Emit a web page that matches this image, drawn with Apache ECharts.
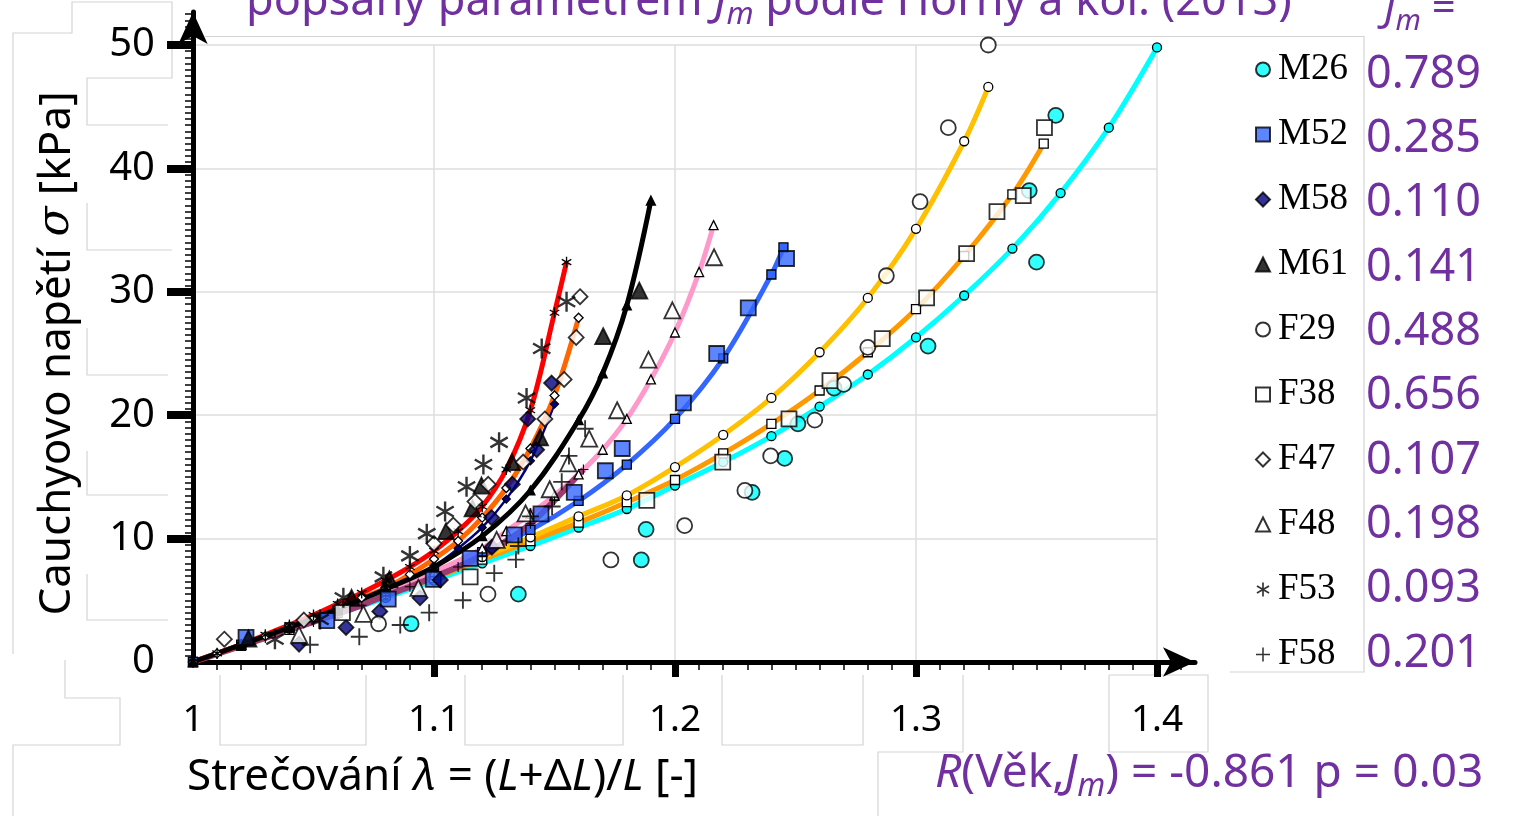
<!DOCTYPE html>
<html>
<head>
<meta charset="utf-8">
<script src="https://cdn.jsdelivr.net/npm/echarts@6/dist/echarts.min.js"></script>
<style>
  html, body { margin: 0; padding: 0; background: #fff; }
  #main { width: 1514px; height: 816px; }
</style>
</head>
<body>
<div id="main"></div>
<script>
// osa x: strecovani lambda, osa y: Cauchyovo napeti v kPa
const xTicks = [1, 1.1, 1.2, 1.3, 1.4]
const yTicks = [0, 10, 20, 30, 40, 50]
const specimens = ['M26', 'M52', 'M58', 'M61', 'F29', 'F38', 'F47', 'F48', 'F53', 'F58']
const jmValues = ['0.789', '0.285', '0.110', '0.141', '0.488', '0.656', '0.107', '0.198', '0.093', '0.201']

// prolozene krivky modelu
const fitM26 = [[1, 0], [1.02, 1.3], [1.04, 2.6], [1.06, 3.9], [1.08, 5.2], [1.10, 6.6], [1.12, 8.0], [1.14, 9.4], [1.16, 10.9], [1.18, 12.4], [1.20, 14.3], [1.22, 16.2], [1.24, 18.3], [1.26, 20.7], [1.28, 23.3], [1.30, 26.3], [1.32, 29.7], [1.34, 33.5], [1.36, 38.0], [1.38, 43.3], [1.40, 49.8]]
const fitF38 = [[1, 0], [1.02, 1.3], [1.04, 2.6], [1.06, 4.0], [1.08, 5.4], [1.10, 6.8], [1.12, 8.3], [1.14, 9.8], [1.16, 11.3], [1.18, 12.95], [1.20, 14.75], [1.22, 16.9], [1.24, 19.3], [1.26, 22.0], [1.28, 25.1], [1.30, 28.6], [1.32, 32.9], [1.34, 37.9], [1.353, 42.0]]
const fitF29 = [[1, 0], [1.02, 1.35], [1.04, 2.7], [1.06, 4.1], [1.08, 5.5], [1.10, 7.0], [1.12, 8.5], [1.14, 10.1], [1.16, 11.8], [1.18, 13.5], [1.20, 15.8], [1.22, 18.4], [1.24, 21.4], [1.26, 25.1], [1.28, 29.5], [1.30, 35.1], [1.32, 42.2], [1.33, 46.6]]
const fitM52 = [[1, 0], [1.02, 1.4], [1.04, 2.8], [1.06, 4.2], [1.08, 5.7], [1.10, 7.3], [1.12, 8.9], [1.14, 10.7], [1.16, 13.05], [1.18, 16.0], [1.20, 19.7], [1.22, 24.6], [1.24, 31.4], [1.245, 33.6]]
const fitF48 = [[1, 0], [1.02, 1.4], [1.04, 2.8], [1.06, 4.2], [1.08, 5.7], [1.10, 7.3], [1.12, 9.2], [1.13, 10.6], [1.14, 12.0], [1.15, 13.5], [1.16, 15.2], [1.17, 17.2], [1.18, 19.7], [1.19, 22.9], [1.20, 26.7], [1.21, 31.6], [1.216, 35.4]]
const fitF58 = [[1, 0], [1.01, 0.65], [1.02, 1.3], [1.03, 1.95], [1.04, 2.6], [1.05, 3.25], [1.06, 3.9], [1.07, 4.6], [1.08, 5.4], [1.09, 6.1], [1.10, 6.9], [1.11, 7.7], [1.12, 8.6], [1.13, 9.8], [1.14, 11.2], [1.15, 13.1], [1.162, 15.6]]
const fitM58 = [[1, 0], [1.02, 1.4], [1.04, 2.8], [1.06, 4.3], [1.08, 5.9], [1.10, 7.8], [1.11, 9.2], [1.12, 10.9], [1.13, 13.2], [1.14, 16.3], [1.15, 20.9]]
const fitF47 = [[1, 0], [1.01, 0.7], [1.02, 1.4], [1.03, 2.1], [1.04, 2.9], [1.05, 3.6], [1.06, 4.4], [1.07, 5.2], [1.08, 6.0], [1.09, 7.1], [1.10, 8.35], [1.11, 9.8], [1.12, 11.7], [1.13, 14.1], [1.14, 17.3], [1.15, 21.6], [1.16, 27.9]]
const fitF53 = [[1, 0], [1.01, 0.7], [1.02, 1.4], [1.03, 2.2], [1.04, 3.0], [1.05, 3.8], [1.06, 4.7], [1.07, 5.6], [1.08, 6.6], [1.09, 7.7], [1.10, 9.0], [1.11, 10.6], [1.12, 12.6], [1.13, 15.6], [1.14, 20.4], [1.15, 28.3], [1.155, 32.4]]
const fitM61 = [[1, 0], [1.02, 1.4], [1.04, 2.8], [1.06, 4.3], [1.08, 5.9], [1.10, 7.7], [1.12, 10.2], [1.14, 13.9], [1.16, 19.6], [1.17, 23.4], [1.18, 28.9], [1.19, 37.4]]

// namerene body
const dataM26 = [[1.0905, 3.1], [1.135, 5.5], [1.186, 8.27], [1.188, 10.75], [1.232, 13.75], [1.2455, 16.5], [1.251, 19.3], [1.266, 22.2], [1.305, 25.6], [1.350, 32.4], [1.347, 38.2], [1.358, 44.3]]
const dataM52 = [[1.022, 2.0], [1.0555, 3.35], [1.081, 5.1], [1.0997, 6.7], [1.115, 8.4], [1.1333, 10.3], [1.1444, 12.0], [1.1582, 13.75], [1.1711, 15.5], [1.1781, 17.3], [1.2035, 21.0], [1.2173, 25.0], [1.2304, 28.7], [1.2463, 32.7]]
const dataM58 = [[1.044, 1.45], [1.0635, 2.8], [1.0775, 4.1], [1.0942, 5.2], [1.1026, 6.65], [1.124, 9.3], [1.1239, 11.7], [1.1325, 14.4], [1.1426, 17.2], [1.1389, 19.7], [1.1488, 22.6]]
const dataM61 = [[1.023, 1.9], [1.0658, 5.2], [1.0815, 6.7], [1.105, 10.6], [1.116, 12.45], [1.1197, 14.3], [1.1324, 16.2], [1.144, 18.2], [1.1702, 26.4], [1.1852, 30.1]]
const dataF29 = [[1.077, 3.1], [1.1224, 5.5], [1.1734, 8.27], [1.204, 11.05], [1.229, 13.9], [1.2397, 16.7], [1.258, 19.6], [1.270, 22.5], [1.280, 25.5], [1.2877, 31.3], [1.3017, 37.3], [1.3134, 43.3], [1.330, 50.0]]
const dataF38 = [[1.062, 4.0], [1.115, 6.9], [1.1883, 13.1], [1.2198, 16.2], [1.2473, 19.7], [1.2643, 22.8], [1.286, 26.2], [1.3044, 29.5], [1.321, 33.1], [1.3336, 36.5], [1.3445, 37.8], [1.3533, 43.3]]
const dataF47 = [[1.013, 1.85], [1.046, 3.4], [1.100, 9.6], [1.108, 11.1], [1.117, 13.0], [1.1225, 14.4], [1.137, 16.2], [1.146, 19.7], [1.154, 22.9], [1.159, 26.3], [1.1606, 29.6]]
const dataF48 = [[1.044, 2.2], [1.0707, 3.9], [1.0935, 6.0], [1.126, 9.9], [1.138, 12.05], [1.148, 14.0], [1.1557, 16.1], [1.1644, 18.1], [1.176, 20.4], [1.189, 24.5], [1.1989, 28.5], [1.2162, 32.8]]
const dataF53 = [[1.034, 1.85], [1.0527, 3.45], [1.0624, 5.2], [1.079, 6.9], [1.090, 8.6], [1.097, 10.4], [1.1046, 12.2], [1.1135, 14.2], [1.1205, 16.0], [1.127, 17.8], [1.1384, 21.4], [1.1447, 25.4], [1.155, 29.2]]
const dataF58 = [[1.0486, 1.4], [1.069, 2.05], [1.086, 3.0], [1.098, 4.0], [1.112, 5.0], [1.125, 7.2], [1.134, 8.3], [1.135, 9.4], [1.140, 11.8], [1.149, 12.6], [1.153, 14.6], [1.156, 16.7], [1.1627, 18.9]]

const purple = '#7030A0'
const sans = '"Noto Sans", "Open Sans", sans-serif'
const boxGray = '#d4d4d4'

// symbol z tenkych ramen (plus, hvezdicka)
function barsPath (angles, w) {
  let d = ''
  angles.forEach(function (deg) {
    const a = deg * Math.PI / 180
    const c = Math.cos(a)
    const s = Math.sin(a)
    const pts = [[1, w], [-1, w], [-1, -w], [1, -w]].map(function (p) {
      return [10 + 10 * (c * p[0] - s * p[1]), 10 + 10 * (s * p[0] + c * p[1])]
    })
    d += 'M' + pts.map(function (p) { return p[0].toFixed(2) + ',' + p[1].toFixed(2) }).join('L') + 'Z'
  })
  return 'path://' + d
}
const plusSymbol = barsPath([0, 90], 0.11)
const starSymbol = barsPath([90, 30, 150], 0.12)

function fitLine (data, color, width, symbol, fill, size) {
  const lineOnly = symbol === plusSymbol || symbol === starSymbol
  return {
    type: 'line',
    xAxisIndex: 0,
    yAxisIndex: 0,
    data: data,
    smooth: 0.35,
    symbol: symbol,
    symbolSize: size || 9,
    symbolKeepAspect: true,
    showSymbol: true,
    lineStyle: { color: color, width: width },
    itemStyle: { color: fill, borderColor: '#000', borderWidth: lineOnly ? 0 : 1.3 },
    z: 3,
    silent: true
  }
}

function measured (name, data, symbol, fill, size) {
  const lineOnly = symbol === plusSymbol || symbol === starSymbol
  return {
    name: name,
    type: 'scatter',
    xAxisIndex: 0,
    yAxisIndex: 0,
    data: data,
    symbol: symbol,
    symbolSize: size,
    symbolKeepAspect: true,
    itemStyle: { color: fill, borderColor: '#000', borderWidth: lineOnly ? 0 : 1.8 },
    z: 5,
    silent: true
  }
}

function subText (size, color) {
  return {
    n: { fontFamily: sans, fontSize: size, lineHeight: size + 12, fill: color },
    i: { fontFamily: sans, fontStyle: 'italic', fontSize: size, lineHeight: size + 12, fill: color },
    s: { fontFamily: sans, fontStyle: 'italic', fontSize: Math.round(size * 0.7), lineHeight: Math.round(size * 0.7), verticalAlign: 'bottom', fill: color }
  }
}

// sede ramecky kolem popisku (zbytky z vlozeneho obrazku)
function frame (points) {
  return {
    type: 'polyline',
    silent: true,
    z: 0,
    shape: { points: points },
    style: { stroke: boxGray, lineWidth: 1.2, fill: null }
  }
}
const frames = [
  [[205, 36.5], [1364, 36.5], [1364, 672], [1230, 672]],
  [[13, 654], [13, 33], [72, 33], [72, 2], [172, 2], [172, 78], [87, 78], [87, 125], [168, 125]],
  [[87, 203], [87, 250], [172, 250]],
  [[87, 328], [87, 375], [168, 375]],
  [[87, 451], [87, 495], [168, 495]],
  [[87, 574], [87, 620], [168, 620]],
  [[65, 660], [65, 698], [120, 698], [120, 745], [13, 745], [13, 816]],
  [[220, 675], [220, 745], [366, 745], [366, 675]],
  [[465, 675], [465, 745], [623, 745], [623, 675]],
  [[722, 675], [722, 745], [863, 745], [863, 675]],
  [[963, 675], [963, 752], [878, 752], [878, 816]],
  [[1109, 675], [1109, 752], [1208, 752], [1208, 675], [1109, 675]]
].map(frame)

const chart = echarts.init(document.getElementById('main'))

const option = {
  animation: false,
  backgroundColor: '#fff',
  grid: [
    { left: 193, top: 45, width: 964, height: 617 },
    { left: 193, top: 12, width: 1002, height: 650 }
  ],
  xAxis: [
    {
      gridIndex: 0,
      type: 'value',
      min: xTicks[0],
      max: xTicks[xTicks.length - 1],
      interval: 0.1,
      axisLine: { show: false },
      axisTick: { show: false },
      splitLine: { show: true, lineStyle: { color: '#dedede', width: 1.5 } },
      axisLabel: {
        margin: 40,
        fontFamily: sans,
        fontSize: 37,
        color: '#000',
        formatter: function (v) { return String(Math.round(v * 10) / 10) }
      }
    },
    {
      gridIndex: 1,
      type: 'value',
      min: 1,
      max: 1.41577,
      interval: 0.1,
      axisLine: {
        show: true,
        lineStyle: { color: '#000', width: 5 },
        symbol: ['none', 'arrow'],
        symbolSize: [22, 32]
      },
      axisTick: { show: true, customValues: [1.1, 1.2, 1.3, 1.4], length: 15, lineStyle: { color: '#000', width: 7 } },
      minorTick: { show: true, splitNumber: 10, length: 8, lineStyle: { color: '#000', width: 1.5 } },
      axisLabel: { show: false },
      splitLine: { show: false }
    }
  ],
  yAxis: [
    {
      gridIndex: 0,
      type: 'value',
      min: yTicks[0],
      max: yTicks[yTicks.length - 1],
      interval: 10,
      axisLine: { show: false },
      axisTick: { show: false },
      splitLine: { show: true, lineStyle: { color: '#dedede', width: 1.5 } },
      axisLabel: { margin: 38, fontFamily: sans, fontSize: 40, color: '#000' },
      name: '{n|Cauchyovo napětí }{i|σ}{n| [kPa]}',
      nameLocation: 'middle',
      nameRotate: 90,
      nameGap: 114,
      nameTextStyle: {
        rich: {
          n: { fontFamily: sans, fontSize: 44, color: '#000' },
          i: { fontFamily: '"DejaVu Serif", serif', fontStyle: 'italic', fontSize: 44, color: '#000' }
        }
      }
    },
    {
      gridIndex: 1,
      type: 'value',
      min: 0,
      max: 52.67,
      interval: 10,
      axisLine: {
        show: true,
        lineStyle: { color: '#000', width: 5 },
        symbol: ['none', 'arrow'],
        symbolSize: [22, 32]
      },
      axisTick: { show: true, customValues: [10, 20, 30, 40, 50], length: 26, lineStyle: { color: '#000', width: 8 } },
      minorTick: { show: true, splitNumber: 20, length: 8, lineStyle: { color: '#000', width: 1.5 } },
      axisLabel: { show: false },
      splitLine: { show: false }
    }
  ],
  legend: {
    data: specimens,
    orient: 'vertical',
    left: 1250,
    top: 46,
    itemWidth: 14,
    itemHeight: 14,
    itemGap: 28,
    selectedMode: false,
    textStyle: { fontFamily: '"Liberation Serif", serif', fontSize: 37, color: '#000', padding: [0, 0, 0, 3] }
  },
  graphic: frames.concat([
    {
      type: 'text',
      left: 246,
      top: -20,
      silent: true,
      style: {
        text: '{n|popsaný parametrem }{i|J}{s|m}{n| podle Horný a kol. (2013)}',
        rich: subText(45, purple)
      }
    },
    {
      type: 'text',
      left: 1384,
      top: -12,
      silent: true,
      style: {
        text: '{i|J}{s|m}{n| =}',
        rich: subText(42, purple)
      }
    },
    {
      type: 'text',
      left: 187,
      top: 755,
      silent: true,
      style: {
        text: '{n|Strečování }{i|λ}{n| = (}{i|L}{n|+Δ}{i|L}{n|)/}{i|L}{n| [-]}',
        rich: subText(44, '#000')
      }
    },
    {
      type: 'text',
      left: 935,
      top: 751,
      silent: true,
      style: {
        text: '{i|R}{n|(Věk,}{i|J}{s|m}{n|) = -0.861 p = 0.03}',
        rich: subText(46, purple)
      }
    }
  ]).concat(jmValues.map(function (v, i) {
    return {
      type: 'text',
      left: 1366,
      top: 75 + i * 64.3 - 30,
      silent: true,
      style: { text: v, fontFamily: sans, fontSize: 45, lineHeight: 60, fill: purple }
    }
  })),
  series: [
    fitLine(fitM26, '#00FFFF', 5, 'circle', '#00FFFF', 9),
    fitLine(fitF38, '#FF9900', 5, 'rect', '#fff', 9),
    fitLine(fitF29, '#FFC000', 5, 'circle', '#fff', 9),
    fitLine(fitM52, '#3366FF', 5, 'rect', '#3366FF', 9),
    fitLine(fitF48, '#FF99CC', 5, 'triangle', '#fff', 9),
    fitLine(fitF58, '#9C3B6F', 6, plusSymbol, '#000', 10),
    fitLine(fitM58, '#000080', 2.5, 'diamond', '#000080', 8),
    fitLine(fitF47, '#FF6600', 5, 'diamond', '#fff', 9),
    fitLine(fitF53, '#FF0000', 5, starSymbol, '#000', 11),
    fitLine(fitM61, '#000000', 5, 'triangle', '#000', 9),
    measured('M26', dataM26, 'circle', '#00FFFF', 15),
    measured('M52', dataM52, 'rect', '#3366FF', 15),
    measured('M58', dataM58, 'diamond', '#000080', 15),
    measured('M61', dataM61, 'triangle', '#000', 16),
    measured('F29', dataF29, 'circle', '#fff', 15),
    measured('F38', dataF38, 'rect', '#fff', 15),
    measured('F47', dataF47, 'diamond', '#fff', 15),
    measured('F48', dataF48, 'triangle', '#fff', 16),
    measured('F53', dataF53, starSymbol, '#000', 20),
    measured('F58', dataF58, plusSymbol, '#000', 17)
  ]
}

chart.setOption(option)
</script>
</body>
</html>
